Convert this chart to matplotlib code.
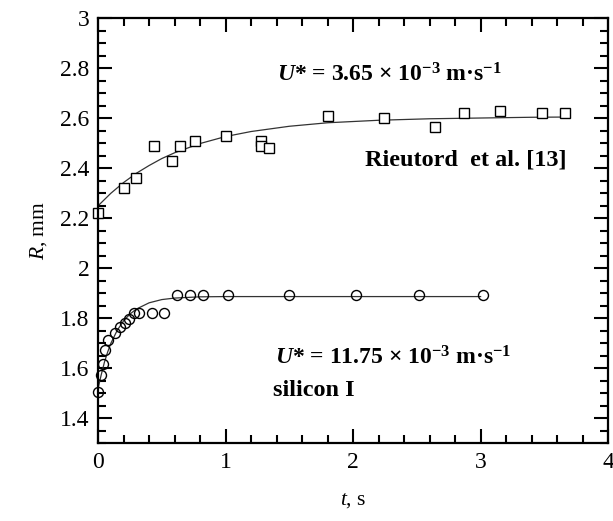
#!/usr/bin/env python3

# Bubble radius vs time: Rieutord et al. data and silicon I data with fitted curves

import matplotlib
matplotlib.use("Agg")
import matplotlib.pyplot as plt
from matplotlib.ticker import MultipleLocator, FuncFormatter

# Rieutord et al. [13] (squares)
sq_t = [0.0, 0.20, 0.30, 0.44, 0.58, 0.64, 0.76, 1.00, 1.28, 1.28, 1.34,
        1.80, 2.24, 2.64, 2.87, 3.15, 3.48, 3.66]
sq_r = [2.22, 2.32, 2.36, 2.49, 2.43, 2.49, 2.51, 2.53, 2.51, 2.49, 2.48,
        2.61, 2.60, 2.565, 2.62, 2.63, 2.62, 2.62]

# silicon I (circles)
ci_t = [0.0, 0.02, 0.04, 0.055, 0.08, 0.13, 0.17, 0.21, 0.24, 0.28, 0.32,
        0.42, 0.52, 0.62, 0.72, 0.82, 1.02, 1.50, 2.02, 2.52, 3.02]
ci_r = [1.506, 1.575, 1.618, 1.672, 1.712, 1.74, 1.766, 1.78, 1.796, 1.822,
        1.822, 1.822, 1.822, 1.893, 1.893, 1.893, 1.893, 1.893, 1.893, 1.893, 1.893]

# fitted curves
fit_sq_t = [0, 0.1, 0.2, 0.3, 0.4, 0.5, 0.6, 0.8, 1.0, 1.2, 1.5, 1.8, 2.2,
            2.6, 3.0, 3.4, 3.7]
fit_sq_r = [2.25, 2.30, 2.343, 2.38, 2.411, 2.439, 2.462, 2.499, 2.527, 2.547,
            2.568, 2.582, 2.592, 2.598, 2.601, 2.604, 2.605]
fit_ci_t = [0, 0.025, 0.05, 0.075, 0.1, 0.15, 0.2, 0.25, 0.3, 0.4, 0.5, 0.6,
            0.8, 1.0, 1.5, 2.0, 2.5, 3.0]
fit_ci_r = [1.52, 1.575, 1.625, 1.665, 1.70, 1.752, 1.79, 1.817, 1.837, 1.862,
            1.875, 1.881, 1.886, 1.887, 1.887, 1.887, 1.887, 1.887]

plt.rcParams['font.family'] = ['Liberation Serif', 'DejaVu Serif']
plt.rcParams['mathtext.fontset'] = 'custom'
plt.rcParams['mathtext.rm'] = 'Liberation Serif:bold'
plt.rcParams['mathtext.bf'] = 'Liberation Serif:bold'
plt.rcParams['mathtext.it'] = 'Liberation Serif:italic:bold'
plt.rcParams['mathtext.sf'] = 'Liberation Serif:italic'

fig = plt.figure(figsize=(6.13, 5.21), dpi=100)
ax = fig.add_axes([0.160, 0.149, 0.832, 0.816])

ax.plot(fit_sq_t, fit_sq_r, color='#333333', lw=0.9)
ax.plot(fit_ci_t, fit_ci_r, color='#333333', lw=0.9)
ax.plot(sq_t, sq_r, linestyle='none', marker='s', ms=6.8, mfc='white',
        mec='black', mew=1.0, clip_on=False)
ax.plot(ci_t, ci_r, linestyle='none', marker='o', ms=7.2, mfc='none',
        mec='black', mew=1.0, clip_on=False)

ax.set_xlim(0, 4)
ax.set_ylim(1.3, 3)
ax.xaxis.set_major_locator(MultipleLocator(1))
ax.xaxis.set_minor_locator(MultipleLocator(0.2))
ax.yaxis.set_major_locator(MultipleLocator(0.2))
ax.yaxis.set_minor_locator(MultipleLocator(0.05))
ax.yaxis.set_major_formatter(FuncFormatter(lambda v, p: f"{v:g}"))
ax.tick_params(which='both', direction='in', top=True, right=True,
               labelsize=17, width=1.5, pad=6)
ax.tick_params(which='major', length=10)
ax.tick_params(which='minor', length=5.5)
for s in ax.spines.values():
    s.set_linewidth(1.6)

ax.set_xlabel(r"$\mathsf{t}$, s", fontsize=15.5, labelpad=13)
ax.set_ylabel(r"$\mathsf{R}$, mm", fontsize=15.5, labelpad=8)

ax.text(1.40, 2.773, r"$U$* = 3.65 × 10$^{-3}$ m·s$^{-1}$",
        fontsize=17, fontweight='bold', va='center')
ax.text(2.09, 2.433, "Rieutord  et al. [13]", fontsize=17.5,
        fontweight='bold', va='center')
ax.text(1.39, 1.641, r"$U$* = 11.75 × 10$^{-3}$ m·s$^{-1}$",
        fontsize=17, fontweight='bold', va='center')
ax.text(1.37, 1.513, "silicon I", fontsize=17.5, fontweight='bold', va='center')

fig.savefig("out.png", dpi=100)
